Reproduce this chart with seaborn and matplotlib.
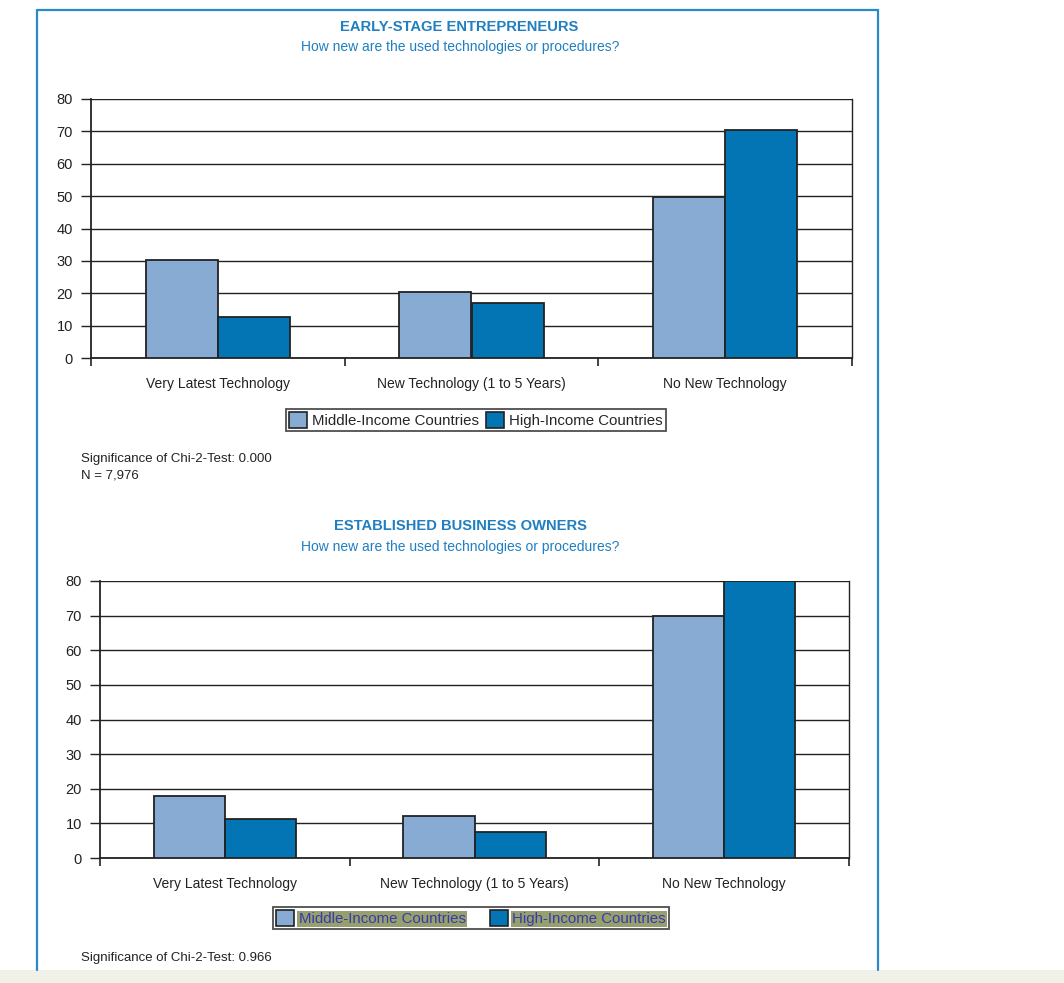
import matplotlib
matplotlib.use("Agg")
import matplotlib.pyplot as plt
from matplotlib.lines import Line2D
from matplotlib.patches import Rectangle
import pandas as pd
import seaborn as sns

# data
categories = ["Very Latest Technology", "New Technology (1 to 5 Years)", "No New Technology"]
groups = ["Middle-Income Countries", "High-Income Countries"]
early_middle = [30.3, 20.4, 49.8]
early_high = [12.7, 17.1, 70.4]
established_middle = [17.9, 12.1, 70.0]
established_high = [11.3, 7.5, 80.0]
y_ticks = [0, 10, 20, 30, 40, 50, 60, 70, 80]

LIGHT = "#87abd3"
DARK = "#0475b4"
TITLE_BLUE = "#1f7fc0"
INK = "#222222"

sns.set_style("white")
plt.rcParams["font.family"] = ["Liberation Sans Narrow", "Liberation Sans", "DejaVu Sans"]


def make_frame(middle, high):
    return pd.DataFrame({
        "category": categories * 2,
        "group": [groups[0]] * 3 + [groups[1]] * 3,
        "value": middle + high,
    })


def draw_panel(ax, df):
    sns.barplot(data=df, x="category", y="value", hue="group", order=categories,
                hue_order=groups, palette=[LIGHT, DARK], saturation=1, width=0.57, gap=0,
                edgecolor=INK, linewidth=1.3, ax=ax, legend=False, zorder=3)
    ax.set_xlim(-0.5, 2.5)
    ax.set_ylim(0, 80)
    ax.set_yticks(y_ticks)
    ax.yaxis.grid(True, color=INK, linewidth=1.0, zorder=0)
    ax.set_axisbelow(True)
    ax.set_xlabel("")
    ax.set_ylabel("")
    ax.set_xticks([-0.5, 0.5, 1.5, 2.5], minor=True)
    ax.tick_params(axis="x", which="major", bottom=True, length=0, pad=14, labelsize=10,
                   colors=INK)
    ax.tick_params(axis="x", which="minor", bottom=True, length=6, width=1.2,
                   direction="out", color=INK)
    ax.tick_params(axis="y", left=True, length=7, width=1.0, direction="out", pad=6,
                   labelsize=10.5, colors=INK)
    for name, sp in ax.spines.items():
        sp.set_color(INK)
        sp.set_linewidth(1.3 if name in ("left", "bottom") else 1.0)
    ax.spines["top"].set_visible(False)


def add_legend(fig, x, y, highlight=False):
    handles = [Rectangle((0, 0), 1, 1, facecolor=LIGHT, edgecolor=INK, linewidth=1.2),
               Rectangle((0, 0), 1, 1, facecolor=DARK, edgecolor=INK, linewidth=1.2)]
    leg = fig.legend(handles, groups, loc="center", bbox_to_anchor=(x, y), ncol=2,
                     frameon=True, fancybox=False, edgecolor=INK, fontsize=10.8,
                     handlelength=1.2, handleheight=1.2, handletextpad=0.3,
                     columnspacing=0.5 if not highlight else 1.6, borderpad=0.2,
                     borderaxespad=0)
    leg.get_frame().set_linewidth(1.3)
    if highlight:
        for t in leg.get_texts():
            t.set_color("#3a3aaa")
            t.set_bbox(dict(facecolor="#969f6e", edgecolor="none", pad=1.0))
    return leg


W, H = 1064, 983
fig = plt.figure(figsize=(W / 100, H / 100), dpi=100)


def fx(px):
    return px / W


def fy(py):
    return 1 - py / H


# page decoration: blue frame and grey footer strip
fig.add_artist(Line2D([fx(37), fx(37)], [fy(10), fy(970)], color="#2a8ac8", linewidth=1.6))
fig.add_artist(Line2D([fx(878), fx(878)], [fy(10), fy(970)], color="#2a8ac8", linewidth=1.6))
fig.add_artist(Line2D([fx(37), fx(878)], [fy(10), fy(10)], color="#2a8ac8", linewidth=1.6))
fig.add_artist(Rectangle((0, 0), 1, fy(970), transform=fig.transFigure,
                         facecolor="#f1f0e9", edgecolor="none"))

title_font = ["Liberation Sans", "DejaVu Sans"]

# top panel
ax1 = fig.add_axes([fx(91), fy(358), fx(852) - fx(91), fy(99) - fy(358)])
draw_panel(ax1, make_frame(early_middle, early_high))
fig.text(fx(459), fy(27), "EARLY-STAGE ENTREPRENEURS", ha="center", va="center",
         color=TITLE_BLUE, fontsize=10.6, fontweight="bold", family=title_font)
fig.text(fx(460), fy(47), "How new are the used technologies or procedures?", ha="center",
         va="center", color=TITLE_BLUE, fontsize=10)
add_legend(fig, fx(476), fy(420))
fig.text(fx(81), fy(459), "Significance of Chi-2-Test: 0.000", ha="left", va="center",
         fontsize=9.5, color=INK)
fig.text(fx(81), fy(476), "N = 7,976", ha="left", va="center", fontsize=9.5, color=INK)

# bottom panel
ax2 = fig.add_axes([fx(100), fy(858), fx(849) - fx(100), fy(581) - fy(858)])
draw_panel(ax2, make_frame(established_middle, established_high))
fig.text(fx(460), fy(526), "ESTABLISHED BUSINESS OWNERS", ha="center", va="center",
         color=TITLE_BLUE, fontsize=10.6, fontweight="bold", family=title_font)
fig.text(fx(460), fy(547), "How new are the used technologies or procedures?", ha="center",
         va="center", color=TITLE_BLUE, fontsize=10)
add_legend(fig, fx(471), fy(918), highlight=True)
fig.text(fx(81), fy(958), "Significance of Chi-2-Test: 0.966", ha="left", va="center",
         fontsize=9.5, color=INK)

fig.savefig("out.png", dpi=100)
